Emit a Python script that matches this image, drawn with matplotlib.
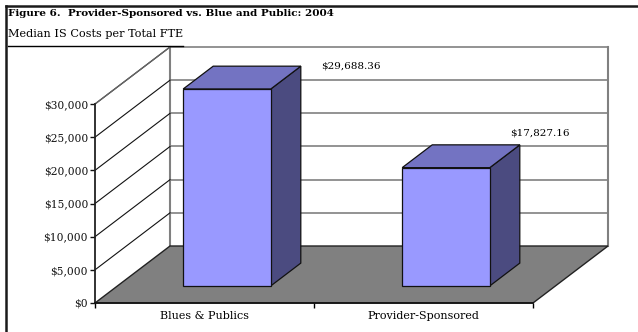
import matplotlib.pyplot as plt
from matplotlib.patches import Polygon
from matplotlib.lines import Line2D
from matplotlib.ticker import FuncFormatter

# Datos
categorias = ['Blues & Publics', 'Provider-Sponsored']
costos = [29688.36, 17827.16]
etiquetas = ['$29,688.36', '$17,827.16']
ticks_y = [0, 5000, 10000, 15000, 20000, 25000, 30000]

titulo = 'Figure 6.  Provider-Sponsored vs. Blue and Public: 2004'
subtitulo = 'Median IS Costs per Total FTE'

# Geometria del efecto 3D (en unidades de datos)
ymax = 30000
DX = 0.3425          # profundidad en x (categorias)
DY = 8593            # profundidad en y (dolares)
f0, f1 = 0.3, 0.7    # posicion de la barra dentro de la profundidad
ancho = 0.4

c_frente = '#9999FF'
c_tope = '#7373C2'
c_lado = '#4B4B80'
c_piso = '#808080'
c_grid = '#808080'

fuente = 'DejaVu Serif'

W, H = 638, 332
fig = plt.figure(figsize=(W / 100, H / 100), dpi=100)
ax = fig.add_axes([95 / W, (H - 303) / H, 438 / W, 199 / H])
ax.set_xlim(0, len(categorias))
ax.set_ylim(0, ymax)
ax.patch.set_visible(False)

n = len(categorias)

# pared del fondo
ax.add_patch(Polygon([(DX, DY), (n + DX, DY), (n + DX, ymax + DY), (DX, ymax + DY)],
                     closed=True, facecolor='white', edgecolor='none', clip_on=False, zorder=1))
for v in ticks_y[1:]:
    ax.add_line(Line2D([DX, n + DX], [v + DY, v + DY], color=c_grid, lw=1.2, clip_on=False, zorder=2))
ax.add_line(Line2D([DX, DX], [DY, ymax + DY], color=c_grid, lw=1.5, clip_on=False, zorder=2))
ax.add_line(Line2D([n + DX, n + DX], [DY, ymax + DY], color=c_grid, lw=1.5, clip_on=False, zorder=2))

# pared izquierda
for v in ticks_y[1:]:
    ax.add_line(Line2D([0, DX], [v, v + DY], color='#111111', lw=0.8, clip_on=False, zorder=2))
ax.add_line(Line2D([0, DX], [ymax, ymax + DY], color='#666666', lw=1.0, clip_on=False, zorder=2))

# piso
ax.add_patch(Polygon([(0, 0), (n, 0), (n + DX, DY), (DX, DY)], closed=True,
                     facecolor=c_piso, edgecolor='#222222', lw=1.0, clip_on=False, zorder=3))

# barras
for i, v in enumerate(costos):
    xl = i + 0.5 - ancho / 2
    xr = i + 0.5 + ancho / 2
    x0, y0 = f0 * DX, f0 * DY
    x1, y1 = f1 * DX, f1 * DY
    frente = [(xl + x0, y0), (xr + x0, y0), (xr + x0, v + y0), (xl + x0, v + y0)]
    tope = [(xl + x0, v + y0), (xr + x0, v + y0), (xr + x1, v + y1), (xl + x1, v + y1)]
    lado = [(xr + x0, y0), (xr + x1, y1), (xr + x1, v + y1), (xr + x0, v + y0)]
    for pts, col in [(lado, c_lado), (tope, c_tope), (frente, c_frente)]:
        ax.add_patch(Polygon(pts, closed=True, facecolor=col, edgecolor='#111111',
                             lw=0.9, clip_on=False, zorder=4))

# etiquetas de valor
desplaz = [(20, 0), (-10, 12)]
for i, v in enumerate(costos):
    xr = i + 0.5 + ancho / 2
    ax.annotate(etiquetas[i], (xr + f1 * DX, v + f1 * DY), xytext=desplaz[i],
                textcoords='offset pixels', ha='left', va='center',
                fontsize=7.5, family=fuente, annotation_clip=False, zorder=5)

# ejes
for s in ['top', 'right']:
    ax.spines[s].set_visible(False)
ax.spines['left'].set_color('#222222')
ax.spines['left'].set_linewidth(1.3)
ax.spines['bottom'].set_color('#111111')
ax.spines['bottom'].set_linewidth(1.2)
ax.spines['left'].set_zorder(6)
ax.spines['bottom'].set_zorder(6)

ax.set_yticks(ticks_y)
ax.yaxis.set_major_formatter(FuncFormatter(lambda v, p: '${:,.0f}'.format(v)))
ax.tick_params(axis='y', direction='out', length=3.5, width=1, pad=1.5,
               labelsize=7.7, colors='#111111')
ax.set_xticks(range(n + 1))
ax.set_xticklabels([])
ax.set_xticks([i + 0.5 for i in range(n)], minor=True)
ax.set_xticklabels(categorias, minor=True, fontsize=8, family=fuente)
ax.tick_params(axis='x', which='major', direction='out', length=3.5, width=1)
ax.tick_params(axis='x', which='minor', length=0, pad=6)
for lab in ax.get_yticklabels():
    lab.set_family(fuente)

# titulos
fig.text(8 / W, 1 - 14 / H, titulo, fontsize=7.5, fontweight='bold', family=fuente,
         va='center', ha='left')
sub = fig.text(8 / W, 1 - 34 / H, subtitulo, fontsize=8.1, family=fuente,
               va='center', ha='left')
fig.canvas.draw()
bb = sub.get_window_extent()
fig.add_artist(Line2D([8 / W, bb.x1 / W], [1 - 46 / H, 1 - 46 / H], color='black', lw=1.0))

# marco
fig.add_artist(Line2D([6 / W, 6 / W], [0, 1 - 6 / H], color='#1a1a1a', lw=1.8))
fig.add_artist(Line2D([6 / W, 1], [1 - 6 / H, 1 - 6 / H], color='#1a1a1a', lw=1.8))

fig.savefig('out.png', dpi=100)
